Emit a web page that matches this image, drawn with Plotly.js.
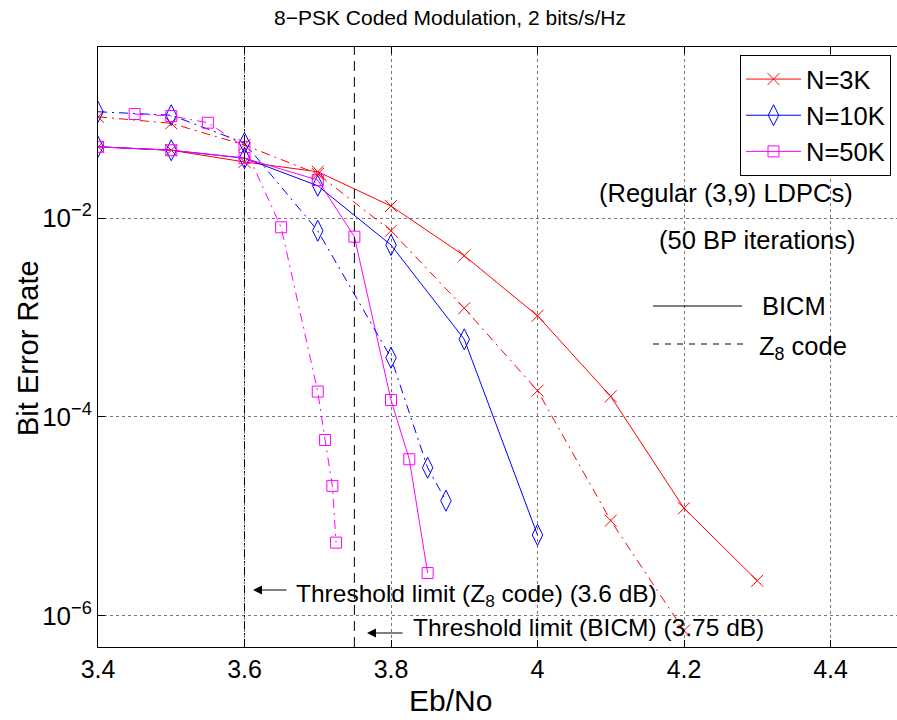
<!DOCTYPE html>
<html><head><meta charset="utf-8">
<script src="https://cdn.plot.ly/plotly-3.0.1.min.js"></script>
<style>html,body{margin:0;padding:0;background:#fff;}#chart{width:897px;height:720px;}</style>
</head><body><div id="chart"></div>
<script>
// ---- data ----
const snr3kBicm  = [3.4, 3.5, 3.6, 3.7, 3.8, 3.9, 4.0, 4.1, 4.2, 4.3];
const ber3kBicm  = [0.052, 0.048, 0.0366, 0.0292, 0.0132, 0.00418, 0.00104, 1.61e-4, 1.21e-5, 2.26e-6];
const snr3kZ8    = [3.4, 3.5, 3.6, 3.7, 3.8, 3.9, 4.0, 4.1, 4.2];
const ber3kZ8    = [0.104, 0.0895, 0.0542, 0.0277, 0.00745, 0.00124, 1.84e-4, 9.08e-6, 7.13e-7];
const snr10kBicm = [3.4, 3.5, 3.6, 3.7, 3.8, 3.9, 4.0];
const ber10kBicm = [0.052, 0.048, 0.040, 0.0211, 0.00536, 6.04e-4, 6.52e-6];
const snr10kZ8   = [3.4, 3.5, 3.6, 3.7, 3.8, 3.85, 3.875];
const ber10kZ8   = [0.117, 0.108, 0.0567, 0.00745, 3.94e-4, 3.09e-5, 1.44e-5];
const snr50kBicm = [3.4, 3.5, 3.6, 3.7, 3.75, 3.8, 3.825, 3.85];
const ber50kBicm = [0.052, 0.048, 0.040, 0.0241, 0.00649, 1.48e-4, 3.76e-5, 2.70e-6];
const snr50kZ8   = [3.45, 3.5, 3.55, 3.6, 3.65, 3.7, 3.71, 3.72, 3.725];
const ber50kZ8   = [0.111, 0.106, 0.0908, 0.0518, 0.00807, 1.80e-4, 5.87e-5, 2.03e-5, 5.46e-6];
const thresholds = [3.6, 3.75];          // Z8 code, BICM
const xTicks     = [3.4, 3.6, 3.8, 4.0, 4.2, 4.4];
const xTickText  = ['3.4', '3.6', '3.8', '4', '4.2', '4.4'];
const yTicks     = [1e-6, 1e-4, 1e-2];
const yTickText  = ['10<sup>−6</sup>', '10<sup>−4</sup>', '10<sup>−2</sup>'];
const seriesNames = ['N=3K', 'N=10K', 'N=50K'];

const FONT = '"Liberation Sans", Arial, Helvetica, sans-serif';
const RED = '#ff0000', BLUE = '#0000ff', MAG = '#ff00ff';
const DASHDOT = '9px,5px,2px,5px';

function tr(x, y, color, symbol, size, dash, name, show) {
  return {
    x: x, y: y, type: 'scatter', mode: 'lines+markers', name: name,
    showlegend: show, legendgroup: name,
    line: {color: color, width: 1, dash: dash},
    marker: {symbol: symbol, size: size, color: color, line: {color: color, width: 1}}
  };
}
const data = [
  tr(snr3kBicm, ber3kBicm, RED, 'x-thin-open', 12, 'solid', seriesNames[0], true),
  tr(snr10kBicm, ber10kBicm, BLUE, 'diamond-tall-open', 15, 'solid', seriesNames[1], true),
  tr(snr50kBicm, ber50kBicm, MAG, 'square-open', 11, 'solid', seriesNames[2], true),
  tr(snr3kZ8, ber3kZ8, RED, 'x-thin-open', 12, DASHDOT, seriesNames[0], false),
  tr(snr10kZ8, ber10kZ8, BLUE, 'diamond-tall-open', 15, DASHDOT, seriesNames[1], false),
  tr(snr50kZ8, ber50kZ8, MAG, 'square-open', 11, DASHDOT, seriesNames[2], false)
];

// pixel helpers for annotation placement (plot area: x 98..897, y 47..647)
const px = v => (v - 98) / 799;
const py = v => (647 - v) / 600;

const layout = {
  width: 897, height: 720,
  margin: {l: 98, r: 0, t: 47, b: 73},
  paper_bgcolor: '#fff', plot_bgcolor: '#fff',
  font: {family: FONT, color: '#000', size: 25},
  title: {text: '8−PSK Coded Modulation, 2 bits/s/Hz', font: {size: 21, family: FONT, color: '#000'},
          xref: 'container', x: 450 / 897, xanchor: 'center', yref: 'container', y: 1 - 18 / 720, yanchor: 'middle'},
  xaxis: {range: [3.4, 3.4 + 799 / 732.5], tickvals: xTicks, ticktext: xTickText,
          ticks: 'inside', ticklen: 7, tickcolor: '#000', tickwidth: 1,
          showline: true, linecolor: '#000', linewidth: 1, mirror: 'ticks',
          showgrid: true, gridcolor: '#777', griddash: 'dot', gridwidth: 1, zeroline: false,
          tickfont: {size: 25, family: FONT, color: '#000'}},
  yaxis: {type: 'log', range: [-6.312, -0.281], tickvals: yTicks, ticktext: yTickText,
          ticks: 'inside', ticklen: 7, tickcolor: '#000', tickwidth: 1,
          showline: true, linecolor: '#000', linewidth: 1, mirror: false,
          showgrid: true, gridcolor: '#777', griddash: 'dot', gridwidth: 1, zeroline: false,
          tickfont: {size: 26, family: FONT, color: '#000'}},
  showlegend: true,
  legend: {x: px(891), xanchor: 'right', y: py(55), yanchor: 'top',
           bordercolor: '#000', borderwidth: 1, bgcolor: '#fff',
           font: {size: 25.5, family: FONT, color: '#000'}, tracegroupgap: 0, itemwidth: 55},
  shapes: [
    {type: 'line', xref: 'x', yref: 'paper', x0: thresholds[0], x1: thresholds[0], y0: 0, y1: 1,
     line: {color: '#000', width: 1, dash: '8px,4px,2px,4px'}},
    {type: 'line', xref: 'x', yref: 'paper', x0: thresholds[1], x1: thresholds[1], y0: 0, y1: 1,
     line: {color: '#000', width: 1, dash: '10px,6px'}},
    {type: 'line', xref: 'paper', yref: 'paper', x0: px(653), x1: px(742), y0: py(306), y1: py(306),
     line: {color: '#000', width: 1}},
    {type: 'line', xref: 'paper', yref: 'paper', x0: px(653), x1: px(743), y0: py(344), y1: py(344),
     line: {color: '#000', width: 1, dash: '6px,6px'}}
  ],
  annotations: [
    {xref: 'paper', yref: 'paper', x: px(760), y: py(306), xanchor: 'left', yanchor: 'middle',
     text: 'BICM', showarrow: false, font: {size: 25.5}},
    {xref: 'paper', yref: 'paper', x: px(757), y: py(348), xanchor: 'left', yanchor: 'middle',
     text: 'Z<sub>8</sub> code', showarrow: false, font: {size: 25.5}},
    {xref: 'paper', yref: 'paper', x: px(855), y: py(193), xanchor: 'right', yanchor: 'middle',
     text: '(Regular (3,9) LDPCs)', showarrow: false, font: {size: 25.5}},
    {xref: 'paper', yref: 'paper', x: px(858), y: py(240), xanchor: 'right', yanchor: 'middle',
     text: '(50 BP iterations)', showarrow: false, font: {size: 25.5}},
    // threshold arrows
    {xref: 'paper', yref: 'paper', x: px(253), y: py(590), axref: 'pixel', ayref: 'pixel', ax: 35, ay: 0,
     text: '', showarrow: true, arrowhead: 2, arrowsize: 1.8, arrowwidth: 1, arrowcolor: '#000'},
    {xref: 'paper', yref: 'paper', x: px(294), y: py(595), xanchor: 'left', yanchor: 'middle',
     text: 'Threshold limit (Z<sub>8</sub> code) (3.6 dB)', showarrow: false, font: {size: 24.5}},
    {xref: 'paper', yref: 'paper', x: px(367), y: py(633), axref: 'pixel', ayref: 'pixel', ax: 37, ay: 0,
     text: '', showarrow: true, arrowhead: 2, arrowsize: 1.8, arrowwidth: 1, arrowcolor: '#000'},
    {xref: 'paper', yref: 'paper', x: px(411), y: py(627), xanchor: 'left', yanchor: 'middle',
     text: 'Threshold limit (BICM) (3.75 dB)', showarrow: false, font: {size: 24.5}},
    // axis titles
    {xref: 'paper', yref: 'paper', x: px(450), y: py(700), xanchor: 'center', yanchor: 'middle',
     text: 'Eb/No', showarrow: false, font: {size: 30}},
    {xref: 'paper', yref: 'paper', x: px(28), y: py(348), xanchor: 'center', yanchor: 'middle',
     text: 'Bit Error Rate', textangle: -90, showarrow: false, font: {size: 29}}
  ]
};

Plotly.newPlot('chart', data, layout, {displayModeBar: false, staticPlot: true});
</script>
</body></html>
